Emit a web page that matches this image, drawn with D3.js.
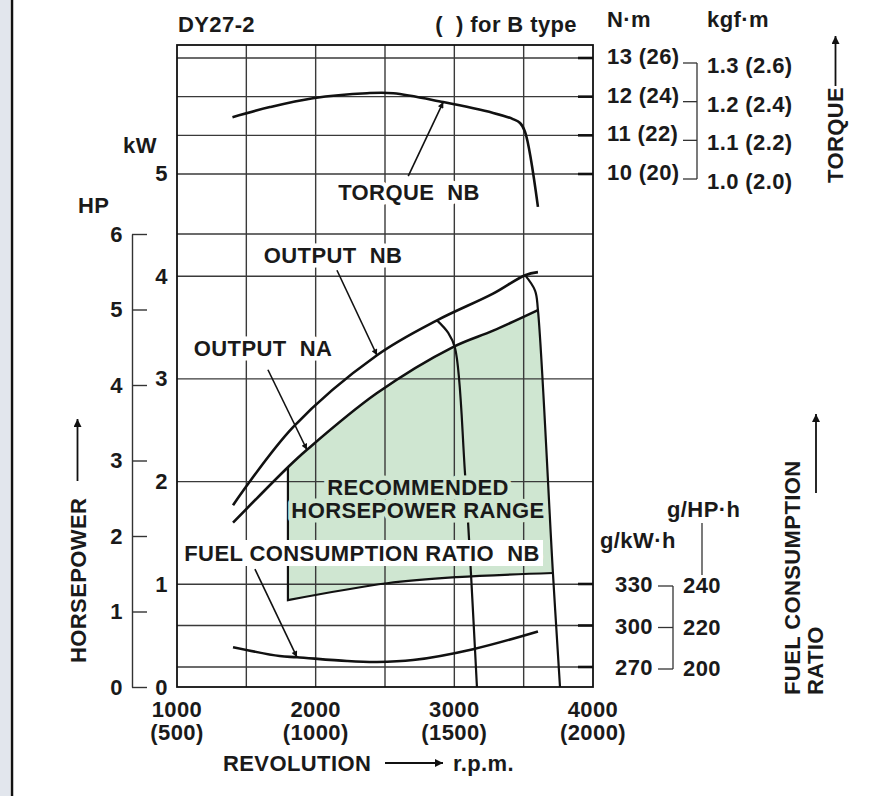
<!DOCTYPE html>
<html>
<head>
<meta charset="utf-8">
<script src="https://cdn.jsdelivr.net/npm/d3@7"></script>
<style>
  body { margin: 0; background: #fff; }
  svg { display: block; }
  text { font-family: "Liberation Sans", Arial, sans-serif; font-weight: bold; font-size: 22px; letter-spacing: 0.4px; fill: #1a1a1a; }
</style>
</head>
<body>
<svg id="chart" width="876" height="796"></svg>
<script>
// ---- values ----
const rpmTicks = [1000, 2000, 3000, 4000],
      rpmSub = ["(500)", "(1000)", "(1500)", "(2000)"],
      rpmGrid = [1500, 2000, 2500, 3000, 3500],
      kwTicks = [0, 1, 2, 3, 4, 5],
      kwGrid = [1, 2, 3, 4],
      hpTicks = [0, 1, 2, 3, 4, 5, 6],
      nmTicks = [10, 11, 12, 13],
      nmLabels = ["10 (20)", "11 (22)", "12 (24)", "13 (26)"],
      kgfLabels = ["1.0 (2.0)", "1.1 (2.2)", "1.2 (2.4)", "1.3 (2.6)"],
      fuelTicks = [270, 300, 330],
      fuelGrid = [270, 300],
      fuelHpLabels = ["200", "220", "240"];

// torque NB (N·m)
const torqueRpm = [1400, 1670, 1980, 2370, 2560, 2920, 3280, 3423, 3474, 3510, 3603],
      torqueNm  = [11.47, 11.73, 11.96, 12.09, 12.09, 11.86, 11.58, 11.42, 11.32, 11.09, 9.15];

// output NB / NA (kW)
const outNbRpm = [1404, 1837, 2442, 2875, 3279, 3510, 3603],
      outNbKw  = [1.77, 2.53, 3.23, 3.57, 3.83, 4.01, 4.04];
const outNaRpm = [1404, 1800, 1937, 2440, 2990, 3280, 3603],
      outNaKw  = [1.60, 2.14, 2.31, 2.86, 3.31, 3.47, 3.67];

// governor run-out lines (kW)
const gov1Rpm = [2875, 2955, 3005, 3077, 3163],
      gov1Kw  = [3.57, 3.45, 3.30, 2.08, 0];
const gov2Rpm = [3510, 3582, 3603, 3711, 3762],
      gov2Kw  = [4.01, 3.86, 3.67, 1.11, 0];

// lower limit of recommended range (kW)
const lowRpm = [1800, 2514, 3019, 3711],
      lowKw  = [0.846, 1.01, 1.07, 1.11];

// fuel consumption ratio NB (g/kW·h)
const fuelRpm = [1404, 1740, 1865, 2226, 2442, 2702, 3135, 3603],
      fuelG   = [284.3, 277.9, 277.1, 274.3, 273.6, 275.0, 282.9, 295.7];

// ---- layout ----
const svg = d3.select("#chart");
const frame = {left: 177, right: 593, top: 45, bottom: 687};

const x = d3.scaleLinear().domain([1000, 4000]).range([frame.left, frame.right]),
      yKw = d3.scaleLinear().domain([0, 5]).range([687, 173.5]),
      yHp = d3.scaleLinear().domain([0, 6]).range([687, 234]),
      yNm = d3.scaleLinear().domain([10, 13]).range([174, 58]),
      yFuel = d3.scaleLinear().domain([270, 330]).range([667, 584]);

const zip = (a, b) => a.map((v, i) => [v, b[i]]);

function lineFor(yScale, curve) {
  return d3.line().x(d => x(d[0])).y(d => yScale(d[1])).curve(curve || d3.curveCatmullRom);
}

// markers
const defs = svg.append("defs");
defs.append("marker").attr("id", "head").attr("viewBox", "0 0 10 10")
  .attr("refX", 10).attr("refY", 5).attr("markerUnits", "userSpaceOnUse")
  .attr("markerWidth", 13).attr("markerHeight", 6).attr("orient", "auto")
  .append("path").attr("d", "M0,0L10,5L0,10Z").attr("fill", "#111");
defs.append("marker").attr("id", "bighead").attr("viewBox", "0 0 10 10")
  .attr("refX", 10).attr("refY", 5).attr("markerUnits", "userSpaceOnUse")
  .attr("markerWidth", 15).attr("markerHeight", 8).attr("orient", "auto")
  .append("path").attr("d", "M0,0L10,5L0,10Z").attr("fill", "#111");

// left page edge
svg.append("rect").attr("x", 0).attr("y", 0).attr("width", 10).attr("height", 796).attr("fill", "#e2e6ed");
svg.append("line").attr("x1", 12).attr("x2", 12).attr("y1", 0).attr("y2", 796)
  .attr("stroke", "#111").attr("stroke-width", 2.5);

// recommended horsepower range (green)
let naPart = zip(outNaRpm, outNaKw).filter(d => d[0] >= lowRpm[0]);
let govPart = zip(gov2Rpm, gov2Kw).filter(d => d[0] > 3603 && d[1] >= lowKw[lowKw.length - 1]);
let lowPart = zip(lowRpm, lowKw).reverse();
let areaPath = lineFor(yKw)(naPart)
  + lineFor(yKw, d3.curveLinear)(govPart).replace(/^M/, "L")
  + lineFor(yKw)(lowPart).replace(/^M/, "L") + "Z";
svg.append("path").attr("d", areaPath).attr("fill", "#cfe6d1").attr("stroke", "none");

// grid
const grid = svg.append("g").attr("stroke", "#3a3a3a").attr("stroke-width", 1.4);
grid.selectAll(".v").data(rpmGrid).enter().append("line")
  .attr("x1", d => x(d)).attr("x2", d => x(d)).attr("y1", frame.top).attr("y2", frame.bottom);
let hLines = kwGrid.map(d => yKw(d))
  .concat([yHp(6)], nmTicks.map(d => yNm(d)), fuelGrid.map(d => yFuel(d)));
grid.selectAll(".h").data(hLines).enter().append("line")
  .attr("x1", frame.left).attr("x2", frame.right).attr("y1", d => d).attr("y2", d => d);

// short ticks on the right edge
let rTicks = nmTicks.map(d => yNm(d)).concat(fuelTicks.map(d => yFuel(d)));
svg.append("g").selectAll("line").data(rTicks).enter().append("line")
  .attr("x1", frame.right - 15).attr("x2", frame.right).attr("y1", d => d).attr("y2", d => d)
  .attr("stroke", "#111").attr("stroke-width", 2.6);

// lower edge + left edge of green range
svg.append("path").attr("d", "M" + x(lowRpm[0]) + "," + yKw(outNaKw[1]) + lineFor(yKw)(lowPart.slice().reverse()).replace(/^M/, "L"))
  .attr("fill", "none").attr("stroke", "#111").attr("stroke-width", 2.2);

// frame
svg.append("rect").attr("x", frame.left).attr("y", frame.top)
  .attr("width", frame.right - frame.left).attr("height", frame.bottom - frame.top)
  .attr("fill", "none").attr("stroke", "#111").attr("stroke-width", 1.8);

// curves
const curves = svg.append("g").attr("fill", "none").attr("stroke", "#111").attr("stroke-width", 2.6);
curves.append("path").attr("d", lineFor(yNm)(zip(torqueRpm, torqueNm)));
curves.append("path").attr("d", lineFor(yKw)(zip(outNbRpm, outNbKw)));
curves.append("path").attr("d", lineFor(yKw)(zip(outNaRpm, outNaKw)));
curves.append("path").attr("d", lineFor(yKw)(zip(gov1Rpm, gov1Kw))).attr("stroke-width", 2.2);
curves.append("path").attr("d", lineFor(yKw)(zip(gov2Rpm, gov2Kw))).attr("stroke-width", 2.2);
curves.append("path").attr("d", lineFor(yFuel)(zip(fuelRpm, fuelG)));

// in-plot labels
function label(txt, cx, by, halo) {
  svg.append("text").attr("x", cx).attr("y", by).attr("text-anchor", "middle")
    .attr("stroke", halo).attr("stroke-width", 9).attr("stroke-linejoin", "round")
    .attr("paint-order", "stroke").text(txt);
}
label("TORQUE\u00a0 NB", 409, 200, "#fff");
label("OUTPUT\u00a0 NB", 333, 263, "#fff");
label("OUTPUT\u00a0 NA", 263, 356, "#fff");
label("RECOMMENDED", 418, 495, "#cfe6d1");
label("HORSEPOWER RANGE", 418, 518, "#cfe6d1");
svg.append("rect").attr("x", 183).attr("y", 540).attr("width", 360).attr("height", 26).attr("fill", "#fff");
label("FUEL CONSUMPTION RATIO\u00a0 NB", 362, 561, "#fff");

// pointer arrows: head on a curve point, tail offset in px
function pointer(px, py, dx, dy) {
  svg.append("line").attr("x1", px + dx).attr("y1", py + dy).attr("x2", px).attr("y2", py)
    .attr("stroke", "#111").attr("stroke-width", 1.6).attr("marker-end", "url(#head)");
}
pointer(x(torqueRpm[5]), yNm(torqueNm[5]), -35, 74);
pointer(x(outNbRpm[2]), yKw(outNbKw[2]), -40, -85);
pointer(x(outNaRpm[2]), yKw(outNaKw[2]), -39, -80);
pointer(x(fuelRpm[2]), yFuel(fuelG[2]), -42, -88);

// kW axis labels
svg.append("g").attr("transform", `translate(${frame.left},0)`)
  .call(d3.axisLeft(yKw).tickValues(kwTicks).tickSize(0).tickPadding(9).tickFormat(d3.format("d")))
  .call(g => g.select(".domain").remove())
  .call(g => g.selectAll("text").attr("font-size", null).attr("font-family", null).attr("fill", null));

// HP axis
svg.append("g").attr("transform", "translate(132,0)")
  .call(d3.axisLeft(yHp).tickValues(hpTicks).tickSizeInner(-15).tickSizeOuter(0).tickPadding(9).tickFormat(d3.format("d")))
  .call(g => g.selectAll("line, path").attr("stroke", "#333").attr("stroke-width", 1.4))
  .call(g => g.selectAll("text").attr("font-size", null).attr("font-family", null).attr("fill", null));

svg.append("text").attr("x", 123).attr("y", 153).text("kW");
svg.append("text").attr("x", 78).attr("y", 213).text("HP");

// rpm labels
const xl = svg.append("g").attr("text-anchor", "middle");
xl.selectAll(".t").data(rpmTicks).enter().append("text")
  .attr("x", d => x(d)).attr("y", 717).text(d => d);
xl.selectAll(".s").data(rpmSub).enter().append("text")
  .attr("x", (d, i) => x(rpmTicks[i])).attr("y", 740).text(d => d);

svg.append("text").attr("x", 223).attr("y", 771).text("REVOLUTION");
svg.append("line").attr("x1", 385).attr("x2", 443).attr("y1", 763).attr("y2", 763)
  .attr("stroke", "#111").attr("stroke-width", 1.8).attr("marker-end", "url(#bighead)");
svg.append("text").attr("x", 453).attr("y", 771).text("r.p.m.");

// titles
svg.append("text").attr("x", 178).attr("y", 32).text("DY27-2");
svg.append("text").attr("x", 577).attr("y", 32).attr("text-anchor", "end").text("(\u00a0 ) for B type");

// torque scale
svg.append("text").attr("x", 607).attr("y", 27).text("N\u00b7m");
svg.append("text").attr("x", 707).attr("y", 27).text("kgf\u00b7m");
const tq = svg.append("g");
tq.selectAll(".n").data(nmLabels).enter().append("text")
  .attr("x", 607).attr("y", (d, i) => yNm(nmTicks[i]) + 6).text(d => d);
tq.selectAll(".k").data(kgfLabels).enter().append("text")
  .attr("x", 707).attr("y", (d, i) => yNm(nmTicks[i]) + 15).text(d => d);
tq.selectAll("line").data(nmTicks).enter().append("line")
  .attr("x1", 683).attr("x2", 697).attr("y1", d => yNm(d) + 5).attr("y2", d => yNm(d) + 5)
  .attr("stroke", "#333").attr("stroke-width", 1.3);
tq.append("line").attr("x1", 697).attr("x2", 697)
  .attr("y1", yNm(13) + 5).attr("y2", yNm(10) + 5).attr("stroke", "#333").attr("stroke-width", 1.3);

svg.append("text").attr("transform", "translate(843,183) rotate(-90)").text("TORQUE");
svg.append("line").attr("x1", 835.5).attr("x2", 835.5).attr("y1", 86).attr("y2", 36)
  .attr("stroke", "#111").attr("stroke-width", 1.8).attr("marker-end", "url(#bighead)");

// fuel scale
svg.append("text").attr("x", 667).attr("y", 517).text("g/HP\u00b7h");
svg.append("text").attr("x", 600).attr("y", 548).text("g/kW\u00b7h");
svg.append("line").attr("x1", 702).attr("x2", 702).attr("y1", 523).attr("y2", 575)
  .attr("stroke", "#333").attr("stroke-width", 1.3);
const fu = svg.append("g");
fu.selectAll(".g").data(fuelTicks).enter().append("text")
  .attr("x", 653).attr("y", d => yFuel(d) + 8).attr("text-anchor", "end").text(d => d);
fu.selectAll(".h").data(fuelHpLabels).enter().append("text")
  .attr("x", 683).attr("y", (d, i) => yFuel(fuelTicks[i]) + 9).text(d => d);
fu.selectAll("line").data(fuelTicks).enter().append("line")
  .attr("x1", 658).attr("x2", 673).attr("y1", d => yFuel(d) + 2).attr("y2", d => yFuel(d) + 2)
  .attr("stroke", "#333").attr("stroke-width", 1.3);
fu.append("line").attr("x1", 673).attr("x2", 673)
  .attr("y1", yFuel(330) + 2).attr("y2", yFuel(270) + 2).attr("stroke", "#333").attr("stroke-width", 1.3);

svg.append("text").attr("transform", "translate(800,695) rotate(-90)").text("FUEL CONSUMPTION");
svg.append("text").attr("transform", "translate(823,695) rotate(-90)").text("RATIO");
svg.append("line").attr("x1", 816).attr("x2", 816).attr("y1", 493).attr("y2", 414)
  .attr("stroke", "#111").attr("stroke-width", 1.8).attr("marker-end", "url(#bighead)");

// horsepower axis title
svg.append("text").attr("transform", "translate(86,663) rotate(-90)").text("HORSEPOWER");
svg.append("line").attr("x1", 77.5).attr("x2", 77.5).attr("y1", 481).attr("y2", 419)
  .attr("stroke", "#111").attr("stroke-width", 1.8).attr("marker-end", "url(#bighead)");
</script>
</body>
</html>
